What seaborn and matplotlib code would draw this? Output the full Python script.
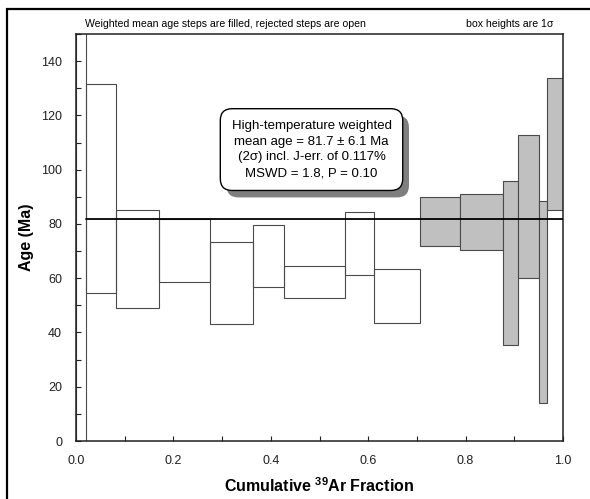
import matplotlib
matplotlib.use("Agg")
import matplotlib.pyplot as plt
import matplotlib.patheffects as pe
from matplotlib.patches import Rectangle
from matplotlib.ticker import MultipleLocator
import numpy as np
import pandas as pd
import seaborn as sns

# ---------------- data ----------------
# cumulative 39Ar fraction boundaries of the heating steps
step_bounds = [0.0, 0.0205, 0.0826, 0.171, 0.276, 0.364, 0.427, 0.553,
               0.612, 0.706, 0.789, 0.877, 0.907, 0.950, 0.967, 1.0]
# 1-sigma box bottoms and tops (Ma)
age_low = [-200.0, 54.5, 49.0, 58.7, 43.0, 56.6, 52.6, 61.1, 43.5,
           71.7, 70.4, 35.3, 60.0, 13.9, 85.1]
age_high = [400.0, 131.6, 85.1, 82.0, 73.2, 79.6, 64.5, 84.4, 63.5,
            89.9, 91.0, 95.9, 112.7, 88.4, 133.8]
in_plateau = [False, False, False, False, False, False, False, False, False,
              True, True, True, True, True, True]
mean_age = 81.7
mean_start = 0.0205
mean_end = 1.0

x_ticks = [0.0, 0.2, 0.4, 0.6, 0.8, 1.0]
y_ticks = [0, 20, 40, 60, 80, 100, 120, 140]

box_text = ("High-temperature weighted\nmean age = 81.7 \u00b1 6.1 Ma\n"
            "(2\u03c3) incl. J-err. of 0.117%\nMSWD = 1.8, P = 0.10")
top_left_text = "Weighted mean age steps are filled, rejected steps are open"
top_right_text = "box heights are 1\u03c3"

df = pd.DataFrame({
    "left": step_bounds[:-1],
    "width": np.diff(step_bounds),
    "low": age_low,
    "high": age_high,
    "filled": in_plateau,
})

# ---------------- style ----------------
sns.set_theme(style="white")
plt.rcParams["font.family"] = ["Liberation Sans", "DejaVu Sans"]
plt.rcParams["mathtext.fontset"] = "custom"
plt.rcParams["mathtext.rm"] = "Liberation Sans"
plt.rcParams["mathtext.bf"] = "Liberation Sans:bold"

fig = plt.figure(figsize=(5.9, 4.99), dpi=100)
ax = fig.add_axes([76 / 590, 58 / 499, 487 / 590, 407 / 499])

# boxes
for _, r in df.iterrows():
    ax.bar(r["left"], r["high"] - r["low"], width=r["width"], bottom=r["low"],
           align="edge", facecolor="#c0c0c0" if r["filled"] else "none",
           edgecolor="#4a4a4a", linewidth=0.8, zorder=2)

# mean line
line_df = pd.DataFrame({"x": [mean_start, mean_end], "y": [mean_age, mean_age]})
sns.lineplot(data=line_df, x="x", y="y", color="black", linewidth=1.3,
             ax=ax, zorder=4)

ax.set_xlim(0, 1)
ax.set_ylim(0, 150)
ax.set_xticks(x_ticks)
ax.set_xticklabels([f"{v:.1f}" for v in x_ticks])
ax.set_yticks(y_ticks)
ax.set_yticklabels([str(v) for v in y_ticks])
ax.xaxis.set_minor_locator(MultipleLocator(0.1))
ax.yaxis.set_minor_locator(MultipleLocator(10))
ax.tick_params(axis="both", which="both", direction="in", length=3.5,
               width=0.8, color="#202020", labelsize=9, labelcolor="#202020",
               bottom=True, left=True, top=False, right=False)
ax.tick_params(axis="x", which="major", pad=10)
ax.tick_params(axis="y", which="major", pad=10)
for s in ax.spines.values():
    s.set_visible(True)
    s.set_color("#202020")
    s.set_linewidth(1.1)

ax.set_xlabel(r"Cumulative $\mathbf{^{39}}$Ar Fraction", fontsize=11.5,
              fontweight="bold", labelpad=7, color="black")
ax.set_ylabel("Age (Ma)", fontsize=11.5, fontweight="bold", labelpad=5,
              color="black")

# annotation box with shadow
t = ax.text(0.4836, 107.4, box_text, ha="center", va="center", fontsize=9.5,
            linespacing=1.42, color="black",
            bbox=dict(boxstyle="round,pad=0.85,rounding_size=0.9",
                      facecolor="white", edgecolor="black", linewidth=1.0),
            zorder=6)
t.get_bbox_patch().set_path_effects([
    pe.SimplePatchShadow(offset=(4.5, -5), shadow_rgbFace="#7f7f7f", alpha=1.0),
    pe.Normal(),
])

# top notes
fig.text(85 / 590, 1 - 27 / 499, top_left_text, fontsize=7.6, ha="left",
         va="baseline", color="black")
fig.text(553 / 590, 1 - 27 / 499, top_right_text, fontsize=7.6, ha="right",
         va="baseline", color="black")

# outer frame
fig.patches.append(Rectangle((7 / 590, -0.2), 1.2, 1 - 9 / 499 + 0.2,
                             transform=fig.transFigure, fill=False,
                             edgecolor="black", linewidth=1.6))

fig.savefig("out.png", dpi=100)
